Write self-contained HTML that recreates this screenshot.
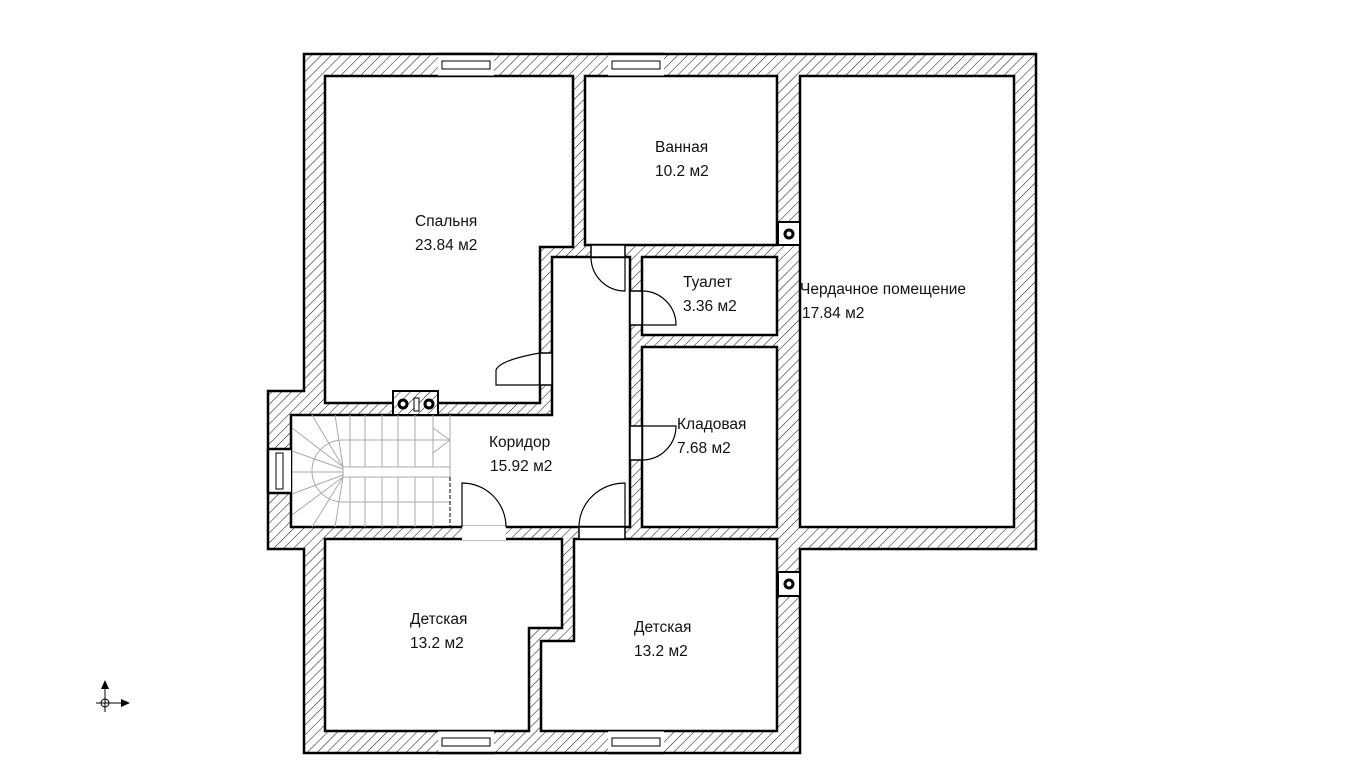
<!DOCTYPE html>
<html><head><meta charset="utf-8"><style>
html,body{margin:0;padding:0;background:#fff;}
svg{display:block;}
text{font-family:"Liberation Sans",sans-serif;font-size:15.5px;fill:#111;}
</style></head><body>
<svg width="1364" height="768" viewBox="0 0 1364 768" xmlns="http://www.w3.org/2000/svg">
<defs>
<pattern id="h" patternUnits="userSpaceOnUse" width="7" height="7" patternTransform="rotate(45)">
<rect width="7" height="7" fill="#fff"/>
<line x1="0" y1="0" x2="0" y2="7" stroke="#222" stroke-width="1.1"/>
</pattern>
</defs>
<path d="M304,54 H1036 V549 H800 V753 H304 V549 H268 V391 H304 Z" fill="url(#h)" stroke="#000" stroke-width="2.5"/>
<g fill="#fff" stroke="#000" stroke-width="2.5">
<path d="M325,76 H573 V247 H540 V403 H325 Z"/>
<rect x="585" y="76" width="192" height="169"/>
<path d="M552,257 H630 V527 H291 V415 H552 Z"/>
<rect x="642" y="257" width="135" height="78"/>
<rect x="642" y="347" width="135" height="180"/>
<rect x="800" y="76" width="214" height="451"/>
<path d="M325,539 H562 V628 H529 V731 H325 Z"/>
<path d="M574,539 H777 V731 H541 V641 H574 Z"/>
</g>
<g fill="#fff" stroke="#000" stroke-width="1">
<rect x="438" y="54" width="56" height="22" stroke="none"/>
<line x1="438" y1="54" x2="494" y2="54" stroke-width="2.5"/>
<line x1="438" y1="76" x2="494" y2="76"/>
<rect x="442" y="61" width="48" height="8"/>
<rect x="608" y="54" width="56" height="22" stroke="none"/>
<line x1="608" y1="54" x2="664" y2="54" stroke-width="2.5"/>
<line x1="608" y1="76" x2="664" y2="76"/>
<rect x="612" y="61" width="48" height="8"/>
<rect x="438" y="731" width="56" height="22" stroke="none"/>
<line x1="438" y1="753" x2="494" y2="753" stroke-width="2.5"/>
<line x1="438" y1="731" x2="494" y2="731"/>
<rect x="442" y="738" width="48" height="8"/>
<rect x="608" y="731" width="56" height="22" stroke="none"/>
<line x1="608" y1="753" x2="664" y2="753" stroke-width="2.5"/>
<line x1="608" y1="731" x2="664" y2="731"/>
<rect x="612" y="738" width="48" height="8"/>
<rect x="268" y="449" width="23" height="44" stroke="none"/>
<line x1="268" y1="449" x2="268" y2="493" stroke-width="2.5"/>
<line x1="268" y1="449" x2="291" y2="449" stroke-width="2.5"/>
<line x1="268" y1="493" x2="291" y2="493" stroke-width="2.5"/>
<rect x="276" y="453" width="7" height="36"/>
</g>
<g fill="#fff" stroke="#000" stroke-width="1.5">
<rect x="591" y="245" width="34" height="12"/>
<rect x="630" y="291" width="12" height="34"/>
<rect x="630" y="426" width="12" height="34"/>
<rect x="540" y="353" width="12" height="32"/>
<rect x="579" y="527" width="46" height="12"/>
<rect x="462" y="526" width="44" height="14" stroke="none"/>
</g>
<g fill="none" stroke="#000" stroke-width="1.2">
<path d="M625,257 V291 A34,34 0 0 1 591,257"/>
<path d="M642,325 H676 A34,34 0 0 0 642,291"/>
<path d="M642,426 H676 A34,34 0 0 1 642,460"/>
<path d="M625,527 V483 A46,44 0 0 0 579,527"/>
<path d="M462,527 V483 A44,44 0 0 1 506,527"/>
<path d="M540,385 H496 V370 Q500,360 540,353"/>
</g>
<g stroke="#000" stroke-width="2">
<rect x="393" y="391" width="45" height="24" fill="url(#h)"/>
<rect x="778" y="222" width="22" height="23" fill="#fff"/>
<rect x="778" y="572" width="22" height="24" fill="#fff"/>
</g>
<g fill="#fff" stroke="#000" stroke-width="3">
<circle cx="403" cy="404" r="4"/>
<circle cx="429" cy="404" r="4"/>
<circle cx="789" cy="234" r="4"/>
<circle cx="789" cy="584" r="4"/>
</g>
<rect x="414" y="398" width="5" height="13" fill="#fff" stroke="#000" stroke-width="1"/>
<g fill="none" stroke="#aaa" stroke-width="1">
<rect x="343" y="467" width="107" height="10"/>
<path d="M450,440 H343 A31,31 0 0 0 343,502 H450"/>
<line x1="365" y1="415" x2="365" y2="467"/><line x1="365" y1="477" x2="365" y2="527"/>
<line x1="382" y1="415" x2="382" y2="467"/><line x1="382" y1="477" x2="382" y2="527"/>
<line x1="398" y1="415" x2="398" y2="467"/><line x1="398" y1="477" x2="398" y2="527"/>
<line x1="415" y1="415" x2="415" y2="467"/><line x1="415" y1="477" x2="415" y2="527"/>
<line x1="433" y1="415" x2="433" y2="467"/><line x1="433" y1="477" x2="433" y2="527"/>
<line x1="450" y1="415" x2="450" y2="467"/>
<line x1="343" y1="467" x2="312" y2="415"/>
<line x1="343" y1="467" x2="292" y2="428"/>
<line x1="343" y1="469" x2="292" y2="451"/>
<line x1="343" y1="472" x2="292" y2="472"/>
<line x1="343" y1="475" x2="292" y2="494"/>
<line x1="343" y1="477" x2="292" y2="515"/>
<line x1="343" y1="477" x2="312" y2="527"/>
<line x1="343" y1="467" x2="335" y2="415"/>
<line x1="343" y1="477" x2="335" y2="527"/>
<line x1="350" y1="467" x2="350" y2="415"/>
<line x1="350" y1="477" x2="350" y2="527"/>
<path d="M433,428 L450,440 L433,453"/>
<line x1="450" y1="477" x2="450" y2="527" stroke="#000" stroke-dasharray="4,2"/>
</g>
<text x="415" y="226">Спальня</text>
<text x="415" y="250">23.84 м2</text>
<text x="655" y="152">Ванная</text>
<text x="655" y="176">10.2 м2</text>
<text x="683" y="287">Туалет</text>
<text x="683" y="311">3.36 м2</text>
<text x="800" y="294">Чердачное помещение</text>
<text x="802" y="318">17.84 м2</text>
<text x="677" y="429">Кладовая</text>
<text x="677" y="453">7.68 м2</text>
<text x="489" y="447">Коридор</text>
<text x="490" y="471">15.92 м2</text>
<text x="410" y="624">Детская</text>
<text x="410" y="648">13.2 м2</text>
<text x="634" y="632">Детская</text>
<text x="634" y="656">13.2 м2</text>
<g stroke="#000" stroke-width="1">
<line x1="105" y1="684" x2="105" y2="712"/>
<line x1="96" y1="703" x2="124" y2="703"/>
<circle cx="105" cy="703" r="4" fill="none"/>
</g>
<path d="M101,689 L105,680 L109,689 Z" fill="#000"/>
<path d="M121,699 L130,703 L121,707 Z" fill="#000"/>
</svg>
</body></html>
